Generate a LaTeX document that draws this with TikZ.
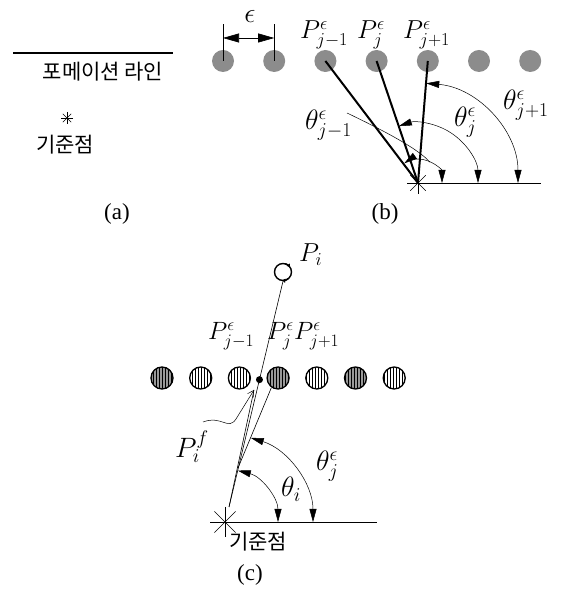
\RequirePackage{fix-cm}
\documentclass[tikz,border=0pt]{standalone}
\usepackage{fontspec}
\setmainfont{Liberation Serif}
\newfontfamily\kofont{Noto Sans CJK KR}
\usepackage{tikz}
\usetikzlibrary{arrows.meta,positioning,calc,patterns}

\begin{document}
\begin{tikzpicture}[x=1pt, y=1pt,
    >={Triangle[length=13pt,width=7pt]},
    formdot/.style={circle, fill=black!45, minimum size=22pt, inner sep=0pt},
    hatchdark/.style={circle, draw, line width=1.3pt, fill=gray!80, minimum size=22pt,
                      inner sep=0pt, postaction={pattern=vertical lines}},
    hatchlight/.style={hatchdark, fill=white},
    ray/.style={line width=2pt},
    thinray/.style={line width=0.6pt},
    angarc/.style={<->, line width=0.5pt},
    kolabel/.style={font=\kofont\fontsize{21}{25}\selectfont},
    biglabel/.style={font=\fontsize{28}{32}\selectfont, inner sep=0pt},
    midlabel/.style={font=\fontsize{25}{29}\selectfont, inner sep=0pt},
    caplabel/.style={font=\fontsize{23}{27}\selectfont}
]
\useasboundingbox (0,0) rectangle (569,591);

% (a) legend
\coordinate (legl) at (13,538);
\coordinate (legr) at (173,538);
\draw[line width=1.5pt] (legl) -- (legr);
\node[kolabel] (legline) at (103,519) {포메이션 라인};
\coordinate (legstar) at (67,473);
\foreach \a in {0,45,90,135}
    \draw[thinray] ($(legstar)+(\a:6)$) -- ($(legstar)-(\a:6)$);
\node[kolabel] (legref) at (65,446) {기준점};
\node[caplabel] (capa) at (117,377) {(a)};

% (b) formation points
\foreach \k in {0,...,6}
    \node[formdot] (b\k) at (223+51.2*\k,530) {};
\draw[thinray] (b0.center) -- ($(b0.center)+(0,37)$);
\draw[thinray] (b1.center) -- ($(b1.center)+(0,37)$);
\draw[{Triangle[length=16pt,width=9pt]}-{Triangle[length=16pt,width=9pt]}, thinray]
    ($(b0.center)+(0,23)$) -- ($(b1.center)+(0,23)$);
\node[biglabel] (eps) at (250,575) {$\epsilon$};

\node[biglabel, font=\fontsize{26}{30}\selectfont, anchor=base west] (lbjm) at (300,552) {$P^{\epsilon}_{j-1}$};
\node[biglabel, font=\fontsize{26}{30}\selectfont, anchor=base west] (lbj) at (357,552) {$P^{\epsilon}_{j}$};
\node[biglabel, font=\fontsize{26}{30}\selectfont, anchor=base west] (lbjp) at (403,552) {$P^{\epsilon}_{j+1}$};

% (b) reference point and angles
\coordinate (sb) at (418,408);
\coordinate (hb) at (541,408);
\foreach \a in {0,45,90,135}
    \draw[thinray] ($(sb)+(\a:11)$) -- ($(sb)-(\a:11)$);
\draw[thinray] (sb) -- (hb);
\foreach \k in {2,3,4}
    \draw[ray] (b\k.center) -- (sb);

\draw[angarc] ($(sb)+(100,0)$) arc (0:85.3:100);
\draw[angarc] ($(sb)+(60,0)$) arc (0:108.6:60);
\draw[angarc] ($(sb)+(24,0)$) arc (0:125:24);

\node[biglabel, anchor=base west] (tbjm) at (305,461) {$\theta^{\epsilon}_{j-1}$};
\node[biglabel, anchor=base west] (tbj) at (454,464) {$\theta^{\epsilon}_{j}$};
\node[biglabel, anchor=base west] (tbjp) at (503,481) {$\theta^{\epsilon}_{j+1}$};
\coordinate (tbjmend) at ($(sb)+(60:24)$);
\draw[line width=0.5pt] (347,478) .. controls (395,455) and (420,440) .. (tbjmend);
\node[caplabel] (capb) at (385,377) {(b)};

% (c) formation with hatched points
\foreach \k/\s in {0/hatchdark,1/hatchlight,2/hatchlight,3/hatchdark,4/hatchlight,5/hatchdark,6/hatchlight}
    \node[\s] (c\k) at (162+38.7*\k,213) {};

\node[midlabel, anchor=base west] (lcjm) at (208,251) {$P^{\epsilon}_{j-1}$};
\node[midlabel, anchor=base west] (lcj) at (267,251) {$P^{\epsilon}_{j}$};
\node[midlabel, anchor=base west] (lcjp) at (294,251) {$P^{\epsilon}_{j+1}$};

% moving point
\node[circle, draw, line width=1.4pt, minimum size=17pt, inner sep=0pt] (Pi) at (283,319) {};
\draw[line width=1.4pt, -{Triangle[length=3pt,width=4pt]}] ([shift={(75:8.5)}]Pi.center) arc (75:35:8.5);
\draw[line width=1.4pt, -{Triangle[length=3pt,width=4pt]}] ([shift={(-50:8.5)}]Pi.center) arc (-50:-95:8.5);
\node[biglabel, font=\fontsize{26}{30}\selectfont, anchor=base west] (lpi) at (299,329) {$P_i$};

% (c) reference point and rays
\coordinate (sc) at (225,69);
\coordinate (hc) at (377,69);
\foreach \a in {0,45,90,135}
    \draw[thinray] ($(sc)+(\a:15)$) -- ($(sc)-(\a:15)$);
\draw[thinray] (sc) -- (hc);

\coordinate (vtx) at (229,84);
\coordinate (ftip) at (254,201);
\coordinate (cfoot) at (238,123);
\node[circle, fill, minimum size=7pt, inner sep=0pt] (fdot) at ($(vtx)!0.564!(Pi.south)$) {};
\draw[thinray] (vtx) -- (Pi.south);
\draw[thinray] (vtx) -- (ftip);
\draw[thinray] (cfoot) -- (c3.235);

\draw[angarc] ($(sc)+(53,0)$) arc (0:76:53);
\draw[angarc] ($(sc)+(88,0)$) arc (0:73:88);

\node[biglabel, anchor=base west] (tci) at (281,94) {$\theta_i$};
\node[biglabel, anchor=base west] (tcj) at (316,120) {$\theta^{\epsilon}_{j}$};
\node[biglabel, anchor=base west] (lpif) at (175,133) {$P^{f}_{i}$};
\draw[line width=0.5pt, -{Straight Barb[length=6pt,width=7pt]}]
    (203,169) .. controls (222,176) and (228,160) .. (236,172) -- (ftip);

\node[kolabel] (refc) at (258,49) {기준점};
\node[caplabel] (capc) at (250,16) {(c)};

\end{tikzpicture}
\end{document}
